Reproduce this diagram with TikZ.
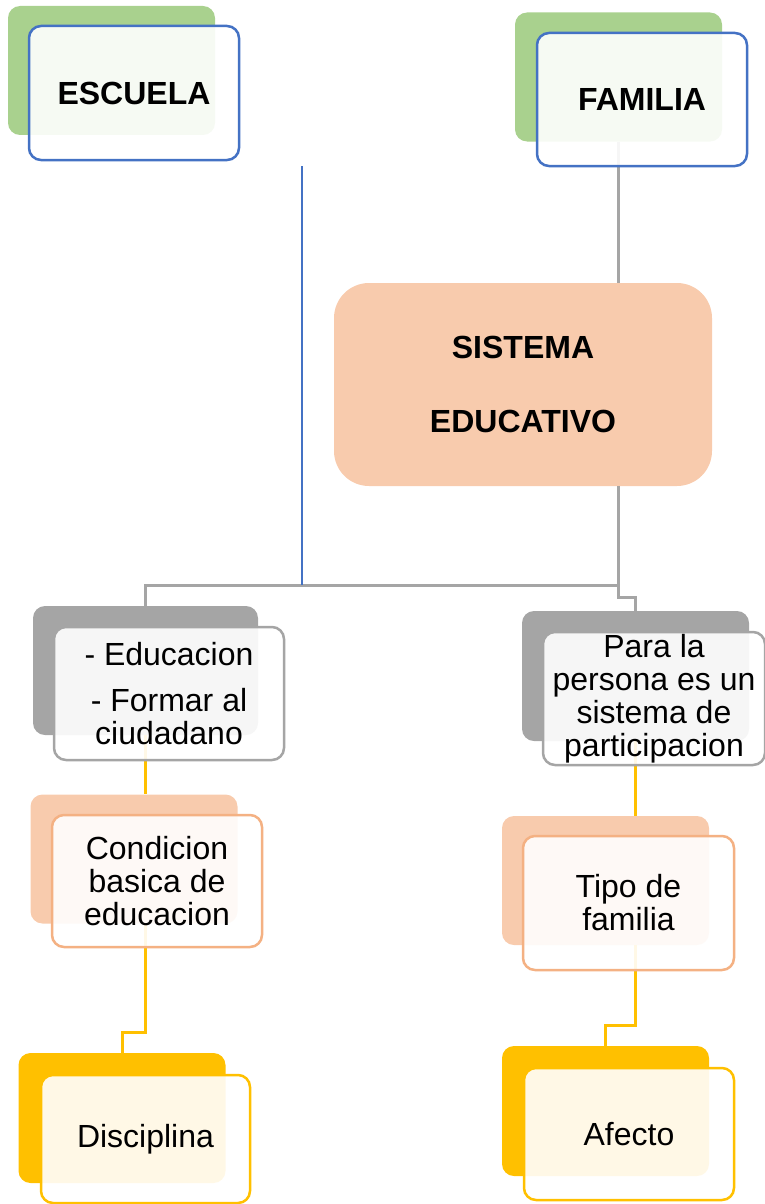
\documentclass[tikz,border=0pt]{standalone}
\usepackage{fontspec}
\setmainfont{Liberation Sans}
\definecolor{verde}{HTML}{A9D18E}
\definecolor{azul}{HTML}{4472C4}
\definecolor{salmon}{HTML}{F8CBAD}
\definecolor{salmonb}{HTML}{F4B183}
\definecolor{gris}{HTML}{A5A5A5}
\definecolor{oro}{HTML}{FFC000}
\begin{document}
\begin{tikzpicture}[x=1pt, y=-1pt,
  back/.style={rounded corners=12pt, minimum width=207pt, minimum height=129pt, inner sep=0pt},
  front/.style={draw, line width=2.5pt, rounded corners=12pt, fill=white, fill opacity=.9, text opacity=1,
    minimum width=210pt, minimum height=133pt, inner sep=0pt, align=center, font=\fontsize{32}{33}\selectfont},
  link/.style={line width=3pt}]
\useasboundingbox (0,0) rectangle (765,1204);
% fondos
\node[back, fill=verde] (escB) at (111.5,70.5) {};
\node[back, fill=verde] (famB) at (618.5,77) {};
\node[fill=salmon, rounded corners=35pt, minimum width=378pt, minimum height=203pt, align=center,
  font=\fontsize{32}{33}\selectfont\bfseries] (sis) at (523,384.5) {SISTEMA\\[41pt]EDUCATIVO};
\node[back, fill=gris, minimum width=225pt] (educB) at (145.5,670.5) {};
\node[back, fill=gris, minimum width=227pt, minimum height=130pt] (paraB) at (635.5,676) {};
\node[back, fill=salmon] (condB) at (134,859) {};
\node[back, fill=salmon] (tipoB) at (605.5,880.5) {};
\node[back, fill=oro, minimum height=130pt] (discB) at (122,1118) {};
\node[back, fill=oro, minimum height=130pt] (afecB) at (605.5,1111) {};
% conectores
\coordinate (azultop) at (302,166);
\draw[link, gris] (famB.south) -- (famB.south |- sis.north);
\draw[link, gris] (famB.south |- sis.south) -- ++(0,99) coordinate (split) -| (educB.north);
\draw[link, gris] (split) -- ++(0,12) -| (paraB.north);
\draw[line width=1.3pt, azul] (azultop) -- (azultop |- split);
\draw[link, oro] (educB.south) -- (educB.south |- condB.north);
\draw[link, oro] ([xshift=11pt]condB.south) -- ++(0,109) -| (discB.north);
\draw[link, oro] (paraB.south) -- (paraB.south |- tipoB.north);
\draw[link, oro] ([xshift=30pt]tipoB.south) -- ++(0,80) -| (afecB.north);
% cajas
\node[front, draw=azul, font=\fontsize{32}{33}\selectfont\bfseries, minimum height=134pt] (escF) at (134,93) {ESCUELA};
\node[front, draw=azul, font=\fontsize{32}{33}\selectfont\bfseries] (famF) at (642,99.5) {FAMILIA};
\node[front, draw=gris, minimum width=230pt] (educF) at (169,693.5) {- Educacion\\[13pt]- Formar al\\ciudadano};
\node[front, draw=gris, minimum width=222pt] (paraF) at (654,698.5) {Para la\\persona es un\\sistema de\\participacion};
\node[front, draw=salmonb, minimum height=132pt] (condF) at (157,881) {Condicion\\basica de\\educacion};
\node[front, draw=salmonb, minimum width=211pt, minimum height=134pt] (tipoF) at (628.5,903) {Tipo de\\familia};
\node[front, draw=oro, minimum width=209pt, minimum height=128pt] (discF) at (145.5,1139) {Disciplina};
\node[front, draw=oro, minimum height=132pt] (afecF) at (629,1134) {Afecto};
\end{tikzpicture}
\end{document}
